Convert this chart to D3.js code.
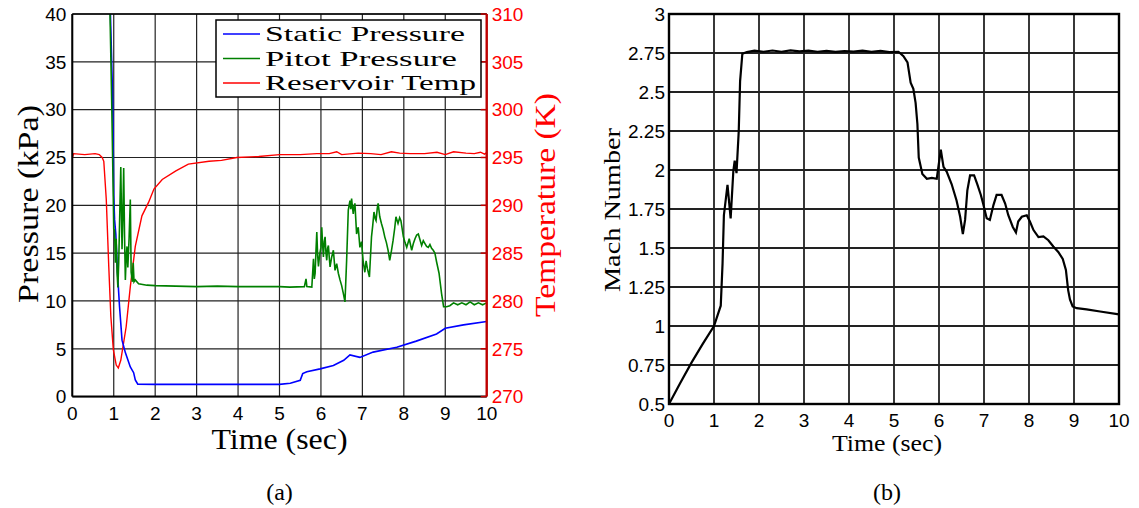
<!DOCTYPE html>
<html>
<head>
<meta charset="utf-8">
<script src="https://cdn.jsdelivr.net/npm/d3@7"></script>
<style>
  body { margin: 0; background: #fff; }
  svg { display: block; }
</style>
</head>
<body>
<svg id="chart" width="1139" height="508"></svg>
<script>
// ---- data ----
const timeTicks = [0, 1, 2, 3, 4, 5, 6, 7, 8, 9, 10];
const pressureTicks = [0, 5, 10, 15, 20, 25, 30, 35, 40];
const tempTicks = [270, 275, 280, 285, 290, 295, 300, 305, 310];
const machTicks = [0.5, 0.75, 1, 1.25, 1.5, 1.75, 2, 2.25, 2.5, 2.75, 3];
const machTickLabels = ["0.5", "0.75", "1", "1.25", "1.5", "1.75", "2", "2.25", "2.5", "2.75", "3"];

const staticTime = [0.88, 0.92, 0.975, 1.0, 1.02, 1.05, 1.09, 1.14, 1.2, 1.28, 1.4, 1.48, 1.52, 1.58, 2, 3, 4, 5, 5.26, 5.5, 5.56, 5.66, 5.98, 6.3, 6.55, 6.7, 6.94, 7.26, 7.83, 8.3, 8.79, 9.0, 9.44, 10];
const staticPressure = [48, 40, 31, 21, 18.5, 17, 13, 9.4, 5.9, 4.6, 3.1, 2.5, 1.75, 1.3, 1.28, 1.28, 1.28, 1.28, 1.4, 1.7, 2.4, 2.6, 2.9, 3.25, 3.8, 4.35, 4.1, 4.65, 5.15, 5.8, 6.55, 7.15, 7.5, 7.85];

const pitotTime = [0.87, 0.91, 0.95, 0.99, 1.0, 1.02, 1.04, 1.06, 1.08, 1.1, 1.12, 1.14, 1.17, 1.2, 1.22, 1.24, 1.26, 1.28, 1.3, 1.32, 1.34, 1.37, 1.4, 1.42, 1.45, 1.47, 1.49, 1.52, 1.6, 1.8, 2.0, 2.5, 3, 3.5, 4, 4.5, 5, 5.25, 5.6, 5.64, 5.66, 5.78, 5.82, 5.84, 5.86, 5.88, 5.9, 5.92, 5.94, 5.97, 6.0, 6.02, 6.04, 6.06, 6.08, 6.1, 6.12, 6.14, 6.16, 6.18, 6.2, 6.22, 6.26, 6.3, 6.34, 6.38, 6.42, 6.46, 6.5, 6.54, 6.58, 6.62, 6.66, 6.7, 6.72, 6.74, 6.76, 6.78, 6.8, 6.82, 6.86, 6.9, 6.94, 6.98, 7.02, 7.06, 7.09, 7.12, 7.17, 7.22, 7.25, 7.28, 7.31, 7.33, 7.36, 7.38, 7.42, 7.46, 7.5, 7.54, 7.58, 7.62, 7.66, 7.7, 7.74, 7.78, 7.81, 7.86, 7.9, 7.93, 7.99, 8.03, 8.07, 8.13, 8.19, 8.23, 8.27, 8.31, 8.35, 8.39, 8.43, 8.47, 8.51, 8.55, 8.59, 8.63, 8.67, 8.71, 8.75, 8.79, 8.85, 8.91, 8.96, 9.03, 9.11, 9.2, 9.3, 9.4, 9.5, 9.6, 9.7, 9.8, 9.9, 10];
const pitotPressure = [48, 40, 31, 20.5, 17.5, 17.4, 14, 16.5, 13, 11.4, 14, 18, 24.0, 15.4, 19, 23.9, 17, 12.2, 14.5, 15.7, 13.5, 16.5, 20.6, 13, 12.0, 14.0, 12.0, 12.2, 11.8, 11.65, 11.6, 11.55, 11.5, 11.55, 11.5, 11.5, 11.5, 11.45, 11.5, 12.3, 11.5, 11.45, 14.4, 12.3, 12.9, 15.2, 17.2, 14.8, 13.6, 14.9, 15.6, 17.7, 15.9, 14.6, 16.2, 16.7, 15.1, 14.25, 15.5, 15.8, 14.6, 13.55, 14.6, 15.3, 13.2, 13.9, 12.9, 12.2, 11.6, 10.8, 9.9, 14.25, 19.5, 20.5, 19.6, 20.7, 19.8, 19.1, 19.9, 20.2, 17, 17.7, 15.6, 16.2, 14.1, 13, 14.2, 13.4, 12.5, 16.7, 17.9, 19.3, 18.6, 18.4, 19.7, 20.2, 18.8, 18.1, 17.5, 16.7, 16.1, 15.3, 14.25, 15.2, 16.3, 17.6, 18.8, 18.1, 18.7, 18.4, 16.7, 16.1, 15.6, 16.5, 15.3, 16.0, 16.5, 16.9, 17.0, 16.4, 15.8, 16.3, 16.0, 15.7, 15.6, 15.9, 15.5, 15.3, 15.0, 14.1, 12.9, 10.8, 9.4, 9.4, 9.5, 9.8, 9.6, 9.8, 9.6, 9.9, 9.6, 9.8, 9.6, 9.8];

const tempTime = [0, 0.03, 0.3, 0.55, 0.65, 0.72, 0.76, 0.82, 0.88, 0.93, 0.99, 1.06, 1.11, 1.17, 1.3, 1.4, 1.52, 1.68, 1.84, 1.97, 2.17, 2.5, 2.8, 3.3, 3.6, 3.97, 4.5, 5.0, 5.5, 5.9, 6.2, 6.38, 6.5, 6.9, 7.2, 7.45, 7.7, 7.9, 8.15, 8.5, 8.8, 9.0, 9.2, 9.5, 9.7, 9.85, 9.95, 10];
const reservoirTemp = [294.9, 295.4, 295.3, 295.4, 295.3, 295.0, 294.6, 290.6, 283.6, 278.4, 274.9, 273.3, 273.0, 273.8, 277.3, 281.5, 285.7, 288.9, 290.3, 291.7, 292.7, 293.6, 294.3, 294.6, 294.7, 295.0, 295.1, 295.3, 295.3, 295.4, 295.4, 295.6, 295.3, 295.45, 295.4, 295.3, 295.6, 295.45, 295.4, 295.4, 295.55, 295.3, 295.6, 295.45, 295.4, 295.55, 295.35, 295.5];

const machTime = [0, 0.25, 0.5, 0.75, 1.0, 1.15, 1.19, 1.22, 1.3, 1.37, 1.43, 1.46, 1.5, 1.55, 1.58, 1.63, 1.73, 1.9, 2.1, 2.3, 2.5, 2.7, 2.9, 3.1, 3.3, 3.5, 3.7, 3.9, 4.1, 4.3, 4.5, 4.7, 4.9, 5.1, 5.21, 5.3, 5.37, 5.43, 5.48, 5.52, 5.55, 5.58, 5.63, 5.73, 5.84, 5.95, 6.04, 6.1, 6.17, 6.28, 6.39, 6.47, 6.53, 6.58, 6.63, 6.69, 6.78, 6.85, 6.93, 6.98, 7.06, 7.13, 7.21, 7.28, 7.39, 7.47, 7.54, 7.64, 7.71, 7.76, 7.84, 7.95, 8.02, 8.1, 8.21, 8.32, 8.43, 8.54, 8.65, 8.75, 8.82, 8.87, 8.91, 8.97, 9.06, 9.28, 9.58, 10];
const machNumber = [0.5, 0.635, 0.765, 0.885, 1.0, 1.13, 1.40, 1.71, 1.905, 1.69, 1.995, 2.06, 1.98, 2.25, 2.57, 2.745, 2.756, 2.765, 2.758, 2.766, 2.758, 2.767, 2.76, 2.765, 2.758, 2.763, 2.757, 2.762, 2.759, 2.765, 2.757, 2.763, 2.756, 2.758, 2.73, 2.69, 2.56, 2.52, 2.43, 2.295, 2.08, 2.04, 1.975, 1.944, 1.95, 1.944, 2.13, 2.02, 1.99, 1.91, 1.805, 1.70, 1.59, 1.68, 1.87, 1.965, 1.965, 1.91, 1.84, 1.785, 1.69, 1.68, 1.775, 1.84, 1.84, 1.785, 1.71, 1.635, 1.60, 1.67, 1.70, 1.71, 1.67, 1.615, 1.57, 1.575, 1.55, 1.51, 1.475, 1.43, 1.36, 1.23, 1.17, 1.125, 1.114, 1.107, 1.093, 1.075];

const svg = d3.select("#chart");
const serif = "Liberation Serif, Times New Roman, serif";
const sans = "Liberation Sans, Arial, Helvetica, sans-serif";

// ================= panel (a) =================
const xa = d3.scaleLinear().domain([0, 10]).range([72.3, 486.7]);
const ya = d3.scaleLinear().domain([0, 40]).range([396.6, 14]);
const yt = d3.scaleLinear().domain([270, 310]).range([396.6, 14]);

svg.append("clipPath").attr("id", "clipA")
  .append("rect").attr("x", 72.3).attr("y", 14).attr("width", 414.4).attr("height", 382.6);

// grid
const gA = svg.append("g");
gA.selectAll(".vx").data(timeTicks).join("line")
  .attr("x1", d => xa(d)).attr("x2", d => xa(d))
  .attr("y1", ya(0)).attr("y2", ya(40))
  .attr("stroke", "#222").attr("stroke-width", 1.2);
gA.selectAll(".hy").data(pressureTicks).join("line")
  .attr("x1", xa(0)).attr("x2", xa(10))
  .attr("y1", d => ya(d)).attr("y2", d => ya(d))
  .attr("stroke", "#222").attr("stroke-width", 1.2);

// series
const lineA = (xs, ys, yScale) => d3.line()
  .x((d, i) => xa(xs[i])).y((d, i) => yScale(ys[i]))(ys);

const plotA = svg.append("g").attr("clip-path", "url(#clipA)");
plotA.append("path").attr("d", lineA(tempTime, reservoirTemp, yt))
  .attr("fill", "none").attr("stroke", "#ff0000").attr("stroke-width", 1.4);
plotA.append("path").attr("d", lineA(staticTime, staticPressure, ya))
  .attr("fill", "none").attr("stroke", "#0000ff").attr("stroke-width", 1.6);
plotA.append("path").attr("d", lineA(pitotTime, pitotPressure, ya))
  .attr("fill", "none").attr("stroke", "#008000").attr("stroke-width", 1.6);

// axes
const axA = svg.append("g");
axA.append("line").attr("x1", xa(0)).attr("x2", xa(10)).attr("y1", ya(40)).attr("y2", ya(40))
  .attr("stroke", "#000").attr("stroke-width", 1.6);
axA.append("line").attr("x1", xa(0)).attr("x2", xa(10)).attr("y1", ya(0)).attr("y2", ya(0))
  .attr("stroke", "#000").attr("stroke-width", 2);
axA.append("line").attr("x1", xa(0)).attr("x2", xa(0)).attr("y1", ya(0)).attr("y2", ya(40))
  .attr("stroke", "#000").attr("stroke-width", 2);
axA.append("line").attr("x1", xa(10)).attr("x2", xa(10)).attr("y1", ya(0)).attr("y2", ya(40))
  .attr("stroke", "#c00000").attr("stroke-width", 2.4);

svg.append("g").selectAll("text").data(pressureTicks).join("text")
  .attr("x", xa(0) - 6).attr("y", d => ya(d)).attr("dy", "0.36em")
  .attr("text-anchor", "end").attr("font-family", sans).attr("font-size", 19)
  .text(d => d);
svg.append("g").selectAll("line").data(tempTicks).join("line")
  .attr("x1", xa(10) - 6).attr("x2", xa(10)).attr("y1", d => yt(d)).attr("y2", d => yt(d))
  .attr("stroke", "#c00000").attr("stroke-width", 1.5);
svg.append("g").selectAll("text").data(tempTicks).join("text")
  .attr("x", xa(10) + 5).attr("y", d => yt(d)).attr("dy", "0.36em")
  .attr("fill", "#ff0000").attr("font-family", sans).attr("font-size", 19)
  .text(d => d);
svg.append("g").selectAll("text").data(timeTicks).join("text")
  .attr("x", d => xa(d)).attr("y", 420)
  .attr("text-anchor", "middle").attr("font-family", sans).attr("font-size", 19)
  .text(d => d);

svg.append("text").attr("x", xa(5)).attr("y", 449)
  .attr("text-anchor", "middle").attr("font-family", serif).attr("font-size", 29)
  .attr("textLength", 136).attr("lengthAdjust", "spacingAndGlyphs")
  .text("Time (sec)");
svg.append("text").attr("transform", "translate(38,204) rotate(-90)")
  .attr("text-anchor", "middle").attr("font-family", serif).attr("font-size", 29)
  .attr("textLength", 198).attr("lengthAdjust", "spacingAndGlyphs")
  .text("Pressure (kPa)");
svg.append("text").attr("transform", "translate(555,205) rotate(-90)")
  .attr("text-anchor", "middle").attr("font-family", serif).attr("font-size", 29)
  .attr("textLength", 224).attr("lengthAdjust", "spacingAndGlyphs")
  .attr("fill", "#ff0000")
  .text("Temperature (K)");
svg.append("text").attr("x", xa(5)).attr("y", 500)
  .attr("text-anchor", "middle").attr("font-family", serif).attr("font-size", 24)
  .text("(a)");

// legend
const legendNames = ["Static Pressure", "Pitot Pressure", "Reservoir Temp"];
const legendWidths = [200, 192, 211];
const legendColors = ["#0000ff", "#008000", "#ff0000"];
const leg = svg.append("g").attr("transform", "translate(216,20)");
leg.append("rect").attr("width", 265).attr("height", 77)
  .attr("fill", "#fff").attr("stroke", "#000").attr("stroke-width", 1.5);
leg.selectAll("line").data(legendNames).join("line")
  .attr("x1", 7).attr("x2", 44).attr("y1", (d, i) => 14 + i * 24.5).attr("y2", (d, i) => 14 + i * 24.5)
  .attr("stroke", (d, i) => legendColors[i]).attr("stroke-width", 1.6);
leg.selectAll("text").data(legendNames).join("text")
  .attr("x", 49).attr("y", (d, i) => 14 + i * 24.5).attr("dy", "0.34em")
  .attr("font-family", serif).attr("font-size", 21)
  .attr("textLength", (d, i) => legendWidths[i]).attr("lengthAdjust", "spacingAndGlyphs")
  .text(d => d);

// ================= panel (b) =================
const xb = d3.scaleLinear().domain([0, 10]).range([669, 1119]);
const yb = d3.scaleLinear().domain([0.5, 3]).range([404, 14]);

const gB = svg.append("g");
gB.selectAll(".vx").data(timeTicks).join("line")
  .attr("x1", d => xb(d)).attr("x2", d => xb(d))
  .attr("y1", yb(0.5)).attr("y2", yb(3))
  .attr("stroke", "#222").attr("stroke-width", 1.8);
gB.selectAll(".hy").data(machTicks).join("line")
  .attr("x1", xb(0)).attr("x2", xb(10))
  .attr("y1", d => yb(d)).attr("y2", d => yb(d))
  .attr("stroke", "#222").attr("stroke-width", 1.8);

svg.append("path")
  .attr("d", d3.line().x((d, i) => xb(machTime[i])).y(d => yb(d))(machNumber))
  .attr("fill", "none").attr("stroke", "#000").attr("stroke-width", 2.2);

gB.append("rect").attr("x", xb(0)).attr("y", yb(3))
  .attr("width", xb(10) - xb(0)).attr("height", yb(0.5) - yb(3))
  .attr("fill", "none").attr("stroke", "#000").attr("stroke-width", 2.4);

svg.append("g").selectAll("text").data(machTicks).join("text")
  .attr("x", xb(0) - 4).attr("y", d => yb(d)).attr("dy", "0.36em")
  .attr("text-anchor", "end").attr("font-family", sans).attr("font-size", 19)
  .text((d, i) => machTickLabels[i]);
svg.append("g").selectAll("text").data(timeTicks).join("text")
  .attr("x", d => xb(d)).attr("y", 427)
  .attr("text-anchor", "middle").attr("font-family", sans).attr("font-size", 19)
  .text(d => d);

svg.append("text").attr("x", 887).attr("y", 451)
  .attr("text-anchor", "middle").attr("font-family", serif).attr("font-size", 24)
  .attr("textLength", 110).attr("lengthAdjust", "spacingAndGlyphs")
  .text("Time (sec)");
svg.append("text").attr("transform", "translate(620,210) rotate(-90)")
  .attr("text-anchor", "middle").attr("font-family", serif).attr("font-size", 24)
  .attr("textLength", 164).attr("lengthAdjust", "spacingAndGlyphs")
  .text("Mach Number");
svg.append("text").attr("x", 887).attr("y", 500)
  .attr("text-anchor", "middle").attr("font-family", serif).attr("font-size", 24)
  .text("(b)");
</script>
</body>
</html>
